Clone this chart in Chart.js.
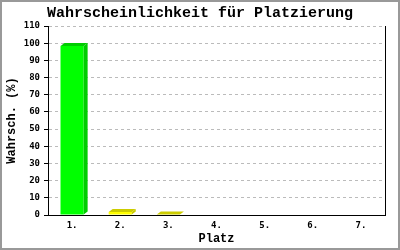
<!DOCTYPE html>
<html>
<head>
<meta charset="utf-8">
<script src="https://cdn.jsdelivr.net/npm/chart.js@4/dist/chart.umd.min.js"></script>
<style>
  html, body { margin: 0; padding: 0; background: #fff; }
  #wrap { width: 400px; height: 250px; }
</style>
</head>
<body>
<div id="wrap"><canvas id="c" width="400" height="250"></canvas></div>
<script>
const categories = ["1.", "2.", "3.", "4.", "5.", "6.", "7."];
const probabilities = [98.4, 1.75, 0.3, 0, 0, 0, 0];
const yTicks = [0, 10, 20, 30, 40, 50, 60, 70, 80, 90, 100, 110];
const titleText = "Wahrscheinlichkeit für Platzierung";
const xTitle = "Platz";
const yTitle = "Wahrsch. (%)";

const frontColors = ["#00ff00", "#ffff00", "#ffff00", "#ffff00", "#ffff00", "#ffff00", "#ffff00"];
const darkColors = ["#00cc00", "#cccc00", "#cccc00", "#cccc00", "#cccc00", "#cccc00", "#cccc00"];

const frame = {
  id: 'frame',
  beforeDraw(chart) {
    const ctx = chart.ctx;
    ctx.save();
    ctx.fillStyle = '#ffffff';
    ctx.fillRect(0, 0, chart.width, chart.height);
    ctx.strokeStyle = '#999999';
    ctx.lineWidth = 2;
    ctx.strokeRect(1, 1, chart.width - 2, chart.height - 2);
    ctx.restore();
  },
  afterDraw(chart) {
    const ctx = chart.ctx;
    const a = chart.chartArea;
    ctx.save();
    ctx.strokeStyle = '#000000';
    ctx.lineWidth = 1;
    ctx.beginPath();
    const x = Math.round(a.right) + 0.5;
    ctx.moveTo(x, a.top);
    ctx.lineTo(x, a.bottom);
    ctx.stroke();
    ctx.restore();
  }
};

const bars3d = {
  id: 'bars3d',
  afterDatasetsDraw(chart) {
    const ctx = chart.ctx;
    const meta = chart.getDatasetMeta(0);
    const dx = 4, dy = 3;
    ctx.save();
    meta.data.forEach((bar, i) => {
      if (!(probabilities[i] > 0)) return;
      const p = bar.getProps(['x', 'y', 'base', 'width'], true);
      const l = p.x - p.width / 2, r = p.x + p.width / 2;
      ctx.fillStyle = darkColors[i];
      ctx.beginPath();
      ctx.moveTo(l, p.y);
      ctx.lineTo(l + dx, p.y - dy);
      ctx.lineTo(r + dx, p.y - dy);
      ctx.lineTo(r, p.y);
      ctx.closePath();
      ctx.fill();
      ctx.beginPath();
      ctx.moveTo(r, p.y);
      ctx.lineTo(r + dx, p.y - dy);
      ctx.lineTo(r + dx, p.base - dy);
      ctx.lineTo(r, p.base);
      ctx.closePath();
      ctx.fill();
    });
    ctx.restore();
  }
};

new Chart(document.getElementById('c'), {
  type: 'bar',
  data: {
    labels: categories,
    datasets: [{
      data: probabilities,
      backgroundColor: frontColors,
      borderWidth: 0,
      categoryPercentage: 1.0,
      barPercentage: 0.48
    }]
  },
  options: {
    responsive: false,
    animation: false,
    devicePixelRatio: 1,
    layout: { padding: { left: 0, right: 0, top: 0, bottom: 0 } },
    plugins: {
      legend: { display: false },
      tooltip: { enabled: false },
      title: {
        display: true,
        text: titleText,
        color: '#000',
        font: { family: "'Liberation Mono', monospace", size: 15, weight: 'bold', lineHeight: 1 },
        padding: { top: 6, bottom: 5 }
      }
    },
    scales: {
      x: {
        grid: { display: false, drawTicks: false },
        border: { display: true, color: '#000', width: 1 },
        ticks: {
          color: '#000',
          padding: 5,
          font: { family: "'DejaVu Sans Mono', monospace", size: 9, weight: 'bold' }
        },
        title: {
          display: true,
          text: xTitle,
          color: '#000',
          font: { family: "'Liberation Mono', monospace", size: 12, weight: 'bold' },
          padding: { top: 0, bottom: 4 }
        },
        afterFit(s) { s.height = 35; }
      },
      y: {
        min: 0,
        max: 110,
        afterBuildTicks(s) { s.ticks = yTicks.map(v => ({ value: v })); },
        grid: {
          color: c => (c.tick && c.tick.value === 0) ? 'rgba(0,0,0,0)' : '#bbbbbb',
          tickColor: '#000',
          tickLength: 4,
          lineWidth: 1,
          drawTicks: true
        },
        border: { display: true, color: '#000', width: 1, dash: [3, 3] },
        ticks: {
          color: '#000',
          padding: 4,
          font: { family: "'DejaVu Sans Mono', monospace", size: 9, weight: 'bold' }
        },
        title: {
          display: true,
          text: yTitle,
          color: '#000',
          font: { family: "'Liberation Mono', monospace", size: 12, weight: 'bold' },
          padding: { top: 5, bottom: 0 }
        },
        afterFit(s) { s.width = 48; }
      },
      yRight: {
        type: 'linear',
        position: 'right',
        min: 0,
        max: 110,
        grid: { display: false, drawTicks: false },
        border: { display: false },
        ticks: { display: false },
        afterFit(s) { s.width = 15; }
      }
    }
  },
  plugins: [frame, bars3d]
});
</script>
</body>
</html>
